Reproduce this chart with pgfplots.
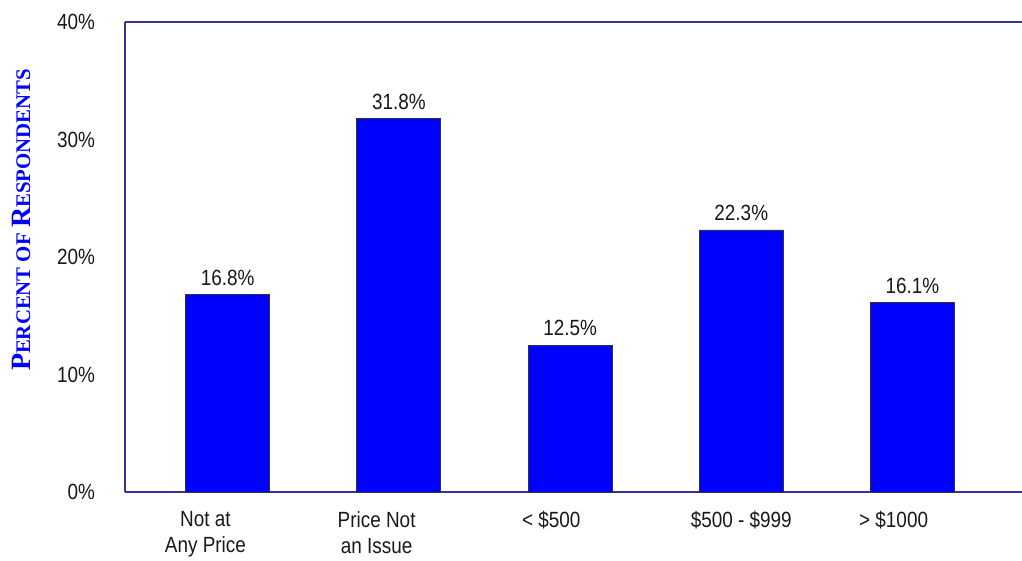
\documentclass[border=0pt]{standalone}
\usepackage{fontspec}
\setmainfont[FakeStretch=0.86]{Liberation Sans}
\newfontfamily\titlefont{Liberation Serif}
\usepackage{pgfplots}
\pgfplotsset{compat=1.18}
\definecolor{axisblue}{RGB}{51,51,153}
\definecolor{barblue}{RGB}{0,0,255}
\definecolor{txt}{RGB}{25,25,25}

\begin{document}
\begin{tikzpicture}
        \begin{axis}[
                scale only axis,
                width=448.5pt,
                height=235pt,
                ymin=0, ymax=40,
                xmin=-0.6, xmax=4.64,
                axis x line*=bottom,
                axis y line*=left,
                axis line style={axisblue, line width=0.6pt},
                major tick length=0pt,
                ytick={0,10,20,30,40},
                yticklabel={\pgfmathprintnumber{\tick}\%},
                yticklabel style={font=\fontsize{11}{13}\selectfont, text=txt, xshift=-11.5pt},
                xtick={-0.13,0.87,1.89,3.0,3.89},
                xticklabels={Not at\\Any Price,Price Not\\an Issue,< \$500,\$500 - \$999,> \$1000},
                x tick label style={font=\fontsize{11}{13}\selectfont, text=txt, align=center, anchor=north, yshift=-6pt},
                /pgf/number format/assume math mode=true,
                ybar,
                bar width=42pt,
                nodes near coords={\pgfmathprintnumber[fixed,fixed zerofill,precision=1]{\pgfplotspointmeta}\%},
                every node near coord/.append style={font=\fontsize{11}{13}\selectfont, text=txt, yshift=1pt},
                clip=false,
            ]
            \draw[axisblue, line width=0.6pt] (rel axis cs:0,1) -- (rel axis cs:1,1);
            \addplot[fill=barblue, draw=black!80, line width=0.4pt] coordinates {(0,16.8) (1,31.8) (2,12.5) (3,22.3) (4,16.1)};
        \end{axis}
        \node[rotate=90, text=blue, font=\titlefont\bfseries, anchor=center] at (-52pt,136pt)
            {\fontsize{14}{15}\selectfont P\fontsize{10.4}{12}\selectfont ERCENT OF \fontsize{14}{15}\selectfont R\fontsize{10.4}{12}\selectfont ESPONDENTS};
        \pgfresetboundingbox
        \path[use as bounding box] (-62.5pt,-34.5pt) rectangle (448.5pt,246pt);
    \end{tikzpicture}
\end{document}
